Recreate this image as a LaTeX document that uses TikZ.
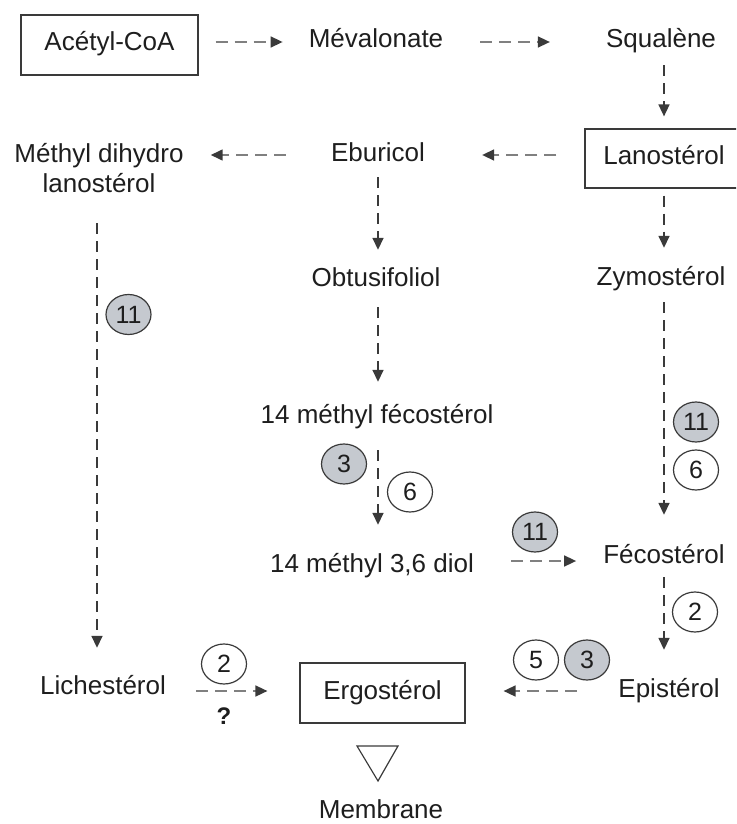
\documentclass[tikz,border=0pt]{standalone}
\usepackage{fontspec}
\setmainfont{Liberation Sans}
\usetikzlibrary{arrows.meta,shapes.geometric}
\definecolor{txt}{HTML}{1E1E1E}
\definecolor{dline}{HTML}{3A3A3A}
\definecolor{hline}{HTML}{808080}
\definecolor{cfill}{HTML}{C5C9CF}
\definecolor{cedge}{HTML}{3A3A3A}
\begin{document}
\begin{tikzpicture}[x=1pt,y=-1pt,
 every node/.style={text=txt, font=\fontsize{26}{30}\selectfont},
 lbl/.style={inner sep=0pt, text height=18pt, text depth=6pt},
 box/.style={draw=dline, line width=1.2pt, inner sep=0pt, text height=18pt, text depth=6pt},
 num/.style={ellipse, draw=cedge, line width=1.2pt, minimum width=45pt, minimum height=40pt, inner sep=0pt, font=\fontsize{25}{30}\selectfont},
 gnum/.style={num, fill=cfill},
 wnum/.style={num, fill=white},
 harr/.style={draw=hline, line width=1.6pt, dash pattern=on 12pt off 7pt, -{Triangle[length=12pt,width=11pt,color=dline]}},
 varr/.style={draw=dline, line width=1.6pt, dash pattern=on 11pt off 7pt, -{Triangle[length=12pt,width=11pt]}},
]
\useasboundingbox (0,0) rectangle (736,824);
\clip (0,0) rectangle (736,824);

% main nodes
\node[box, minimum width=177pt, minimum height=60pt] (acetyl) at (109.5,45) {Acétyl-CoA\hspace{11pt}};
\node[lbl] (mev) at (376,42) {Mévalonate};
\node[lbl] (squ) at (661,42) {Squalène};
\node[box, minimum width=158pt, minimum height=59pt] (lan) at (664,158.5) {Lanostérol};
\node[lbl] (ebu) at (378,155) {Eburicol};
\node[inner sep=0pt, align=center, anchor=south] (mdl) at (99,193) {Méthyl dihydro\\lanostérol};
\node[lbl] (obt) at (376,280) {Obtusifoliol};
\node[lbl] (zym) at (661,279) {Zymostérol};
\node[lbl] (mf) at (377,417) {14 méthyl fécostérol};
\node[lbl] (diol) at (372,566) {14 méthyl 3,6 diol};
\node[lbl] (fec) at (664,557) {Fécostérol};
\node[lbl] (lich) at (103,688) {Lichestérol};
\node[box, minimum width=165pt, minimum height=60pt] (erg) at (382.5,693) {Ergostérol\hspace{13pt}};
\node[lbl] (epi) at (669,691) {Epistérol};
\node[lbl] (mem) at (381,812) {Membrane};

% triangle
\draw[draw=dline, line width=1.2pt, line join=miter] (357,746) -- (398,746) -- (378,781) -- cycle;

% enzyme labels
\node[gnum] (c11a) at (128.5,314.5) {11};
\node[gnum] (c3a) at (344,464) {3};
\node[wnum] (c6a) at (410,492) {6};
\node[gnum] (c11b) at (696,422) {11};
\node[wnum] (c6b) at (696,470) {6};
\node[gnum] (c11c) at (535,532) {11};
\node[wnum] (c2a) at (695,612) {2};
\node[wnum] (c5) at (536,660) {5};
\node[gnum] (c3b) at (587,660) {3};
\node[wnum] (c2b) at (224,664) {2};
\node[font=\bfseries\fontsize{24}{28}\selectfont, inner sep=0pt] (q) at (224,716) {?};

% horizontal connectors
\draw[harr, shorten <=17pt, shorten >=26pt] (acetyl.east |- mev.west) -- (mev.west);
\draw[harr, shorten <=37pt, shorten >=56pt] (mev.east) -- (squ.west);
\draw[harr, shorten <=28pt, shorten >=57pt] (lan.west |- ebu.east) -- (ebu.east);
\draw[harr, shorten <=45pt, shorten >=27pt] (ebu.west) -- (ebu.west -| mdl.east);
\draw[harr, shorten <=37pt, shorten >=27pt] ([yshift=-4pt]fec.west -| diol.east) -- ([yshift=-4pt]fec.west);
\draw[harr, shorten <=41pt, shorten >=38pt] (epi.west) -- (epi.west -| erg.east);
\draw[harr, shorten <=30pt, shorten >=32pt] ([yshift=-3pt]lich.east) -- ([yshift=-3pt]lich.east -| erg.west);

% vertical connectors
\draw[varr, shorten <=11pt, shorten >=12pt] (lan.north |- squ.south) -- (lan.north);
\draw[varr, shorten <=7pt, shorten >=19pt] (lan.south) -- (lan.south |- zym.north);
\draw[varr, shorten <=11pt, shorten >=30pt] (lan.south |- zym.south) -- (lan.south |- fec.north);
\draw[varr, shorten <=8pt, shorten >=29pt] (lan.south |- fec.south) -- (lan.south |- epi.north);
\draw[varr, shorten <=10pt, shorten >=18pt] (ebu.south) -- (ebu.south |- obt.north);
\draw[varr, shorten <=15pt, shorten >=23pt] (ebu.south |- obt.south) -- (ebu.south |- mf.north);
\draw[varr, shorten <=21pt, shorten >=29pt] (ebu.south |- mf.south) -- (ebu.south |- diol.north);
\draw[varr, shorten <=30pt, shorten >=28pt] ([xshift=-2pt]mdl.south) -- ([xshift=-2pt]mdl.south |- lich.north);
\end{tikzpicture}
\end{document}
